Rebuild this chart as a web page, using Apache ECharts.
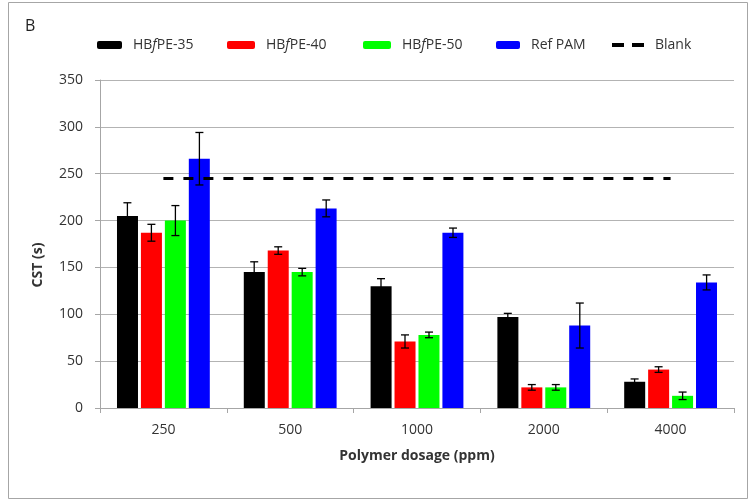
<!DOCTYPE html>
<html>
<head>
<meta charset="utf-8">
<script src="https://cdn.jsdelivr.net/npm/echarts@6/dist/echarts.min.js"></script>
<style>
  html, body { margin: 0; padding: 0; background: #fff; }
  #chart { width: 748px; height: 501px; }
</style>
</head>
<body>
<div id="chart"></div>
<script>
// dosage categories (ppm)
const dosages = ['250', '500', '1000', '2000', '4000'];

// CST values (s) and error bars
const pe35 = [205, 145, 130, 97, 28];
const pe35Err = [14, 11, 8, 4, 3];
const pe40 = [187, 168, 71, 22, 41];
const pe40Err = [9, 4, 7, 3, 3];
const pe50 = [200, 145, 78, 22, 13];
const pe50Err = [16, 4, 3, 3, 4];
const refPam = [266, 213, 187, 88, 134];
const refPamErr = [28, 9, 5, 24, 8];
const blank = [245, 245, 245, 245, 245];

const seriesNames = ['HBfPE-35', 'HBfPE-40', 'HBfPE-50', 'Ref PAM'];
const colors = ['#000000', '#ff0000', '#00ff00', '#0000ff'];
const values = [pe35, pe40, pe50, refPam];
const errors = [pe35Err, pe40Err, pe50Err, refPamErr];

const FONT = 'Open Sans';
const BAR_W = 21;
const BAR_STEP = 24; // bar width + gap

const chart = echarts.init(document.getElementById('chart'));

// error bar series, one per bar series
const errorSeries = values.map((vals, s) => ({
    type: 'custom',
    name: seriesNames[s] + ' err',
    data: vals.map((v, i) => [i, v, errors[s][i]]),
    z: 5,
    silent: true,
    renderItem: (params, api) => {
        const v = api.value(1);
        const e = api.value(2);
        const x = api.coord([api.value(0), 0])[0] + (s - 1.5) * BAR_STEP;
        const yHi = api.coord([0, v + e])[1];
        const yLo = api.coord([0, v - e])[1];
        const st = { stroke: '#000', lineWidth: 1.3 };
        return {
            type: 'group',
            children: [
                { type: 'line', shape: { x1: x, y1: yHi, x2: x, y2: yLo }, style: st },
                { type: 'line', shape: { x1: x - 4, y1: yHi, x2: x + 4, y2: yHi }, style: st },
                { type: 'line', shape: { x1: x - 4, y1: yLo, x2: x + 4, y2: yLo }, style: st },
            ],
        };
    },
}));

const barSeries = values.map((vals, s) => ({
    type: 'bar',
    name: seriesNames[s],
    data: vals,
    barWidth: BAR_W,
    barGap: '14%',
    itemStyle: { color: colors[s] },
}));

const legendNames = seriesNames.concat(['Blank']);
const legendLeft = [92, 222, 358, 491, 607];
const legendIconW = [25, 28, 28, 24, 32];
const dashIcon = 'path://M0,0H12V4H0Z M20,0H32V4H20Z';

const option = {
    backgroundColor: '#ffffff',
    animation: false,
    grid: { left: 100, right: 14, top: 80, bottom: 93 },
    legend: legendNames.map((n, i) => ({
        data: [n === 'Blank' ? { name: n, icon: dashIcon } : n],
        left: legendLeft[i],
        top: 33,
        itemWidth: legendIconW[i],
        itemHeight: n === 'Blank' ? 4 : 8,
        selectedMode: false,
        formatter: name => name.startsWith('HB') ? name.replace('Bf', 'B{i|f}') : name,
        textStyle: {
            fontFamily: FONT,
            fontSize: 14,
            color: '#333',
            padding: [0, 0, 0, 6],
            rich: {
                i: { fontFamily: FONT, fontSize: 14, fontStyle: 'italic', color: '#333' },
            },
        },
    })),
    xAxis: {
        type: 'category',
        data: dosages,
        name: 'Polymer dosage (ppm)',
        nameLocation: 'middle',
        nameGap: 41,
        nameTextStyle: { fontFamily: FONT, fontSize: 14, fontWeight: 'bold', color: '#333' },
        axisLine: { lineStyle: { color: '#a6a6a6', width: 1 } },
        axisTick: { show: true, length: 5, lineStyle: { color: '#a6a6a6' } },
        axisLabel: { fontFamily: FONT, fontSize: 14, color: '#333', margin: 15 },
    },
    yAxis: {
        type: 'value',
        min: 0,
        max: 350,
        interval: 50,
        axisLine: { show: true, lineStyle: { color: '#a6a6a6', width: 1 } },
        axisTick: { show: true, length: 5, lineStyle: { color: '#a6a6a6' } },
        axisLabel: { fontFamily: FONT, fontSize: 14, color: '#333', margin: 17 },
        splitLine: { lineStyle: { color: '#b3b3b3', width: 1 } },
    },
    graphic: [
        {
            type: 'rect',
            shape: { x: 8.5, y: 2.5, width: 739, height: 496 },
            style: { fill: 'none', stroke: '#a6a6a6', lineWidth: 1 },
            silent: true,
        },
        {
            type: 'text',
            left: 25,
            top: 18,
            style: { text: 'B', font: '16px "Open Sans"', fill: '#222' },
        },
        {
            type: 'text',
            x: 38,
            y: 265,
            rotation: Math.PI / 2,
            style: {
                text: 'CST (s)',
                font: 'bold 14px "Open Sans"',
                fill: '#333',
                align: 'center',
                verticalAlign: 'middle',
            },
        },
    ],
    series: barSeries.concat(errorSeries, [{
        type: 'line',
        name: 'Blank',
        data: blank,
        symbol: 'none',
        z: 4,
        lineStyle: { color: '#000', width: 3, type: [10, 10] },
        itemStyle: { color: '#000' },
    }]),
};

chart.setOption(option);
</script>
</body>
</html>
